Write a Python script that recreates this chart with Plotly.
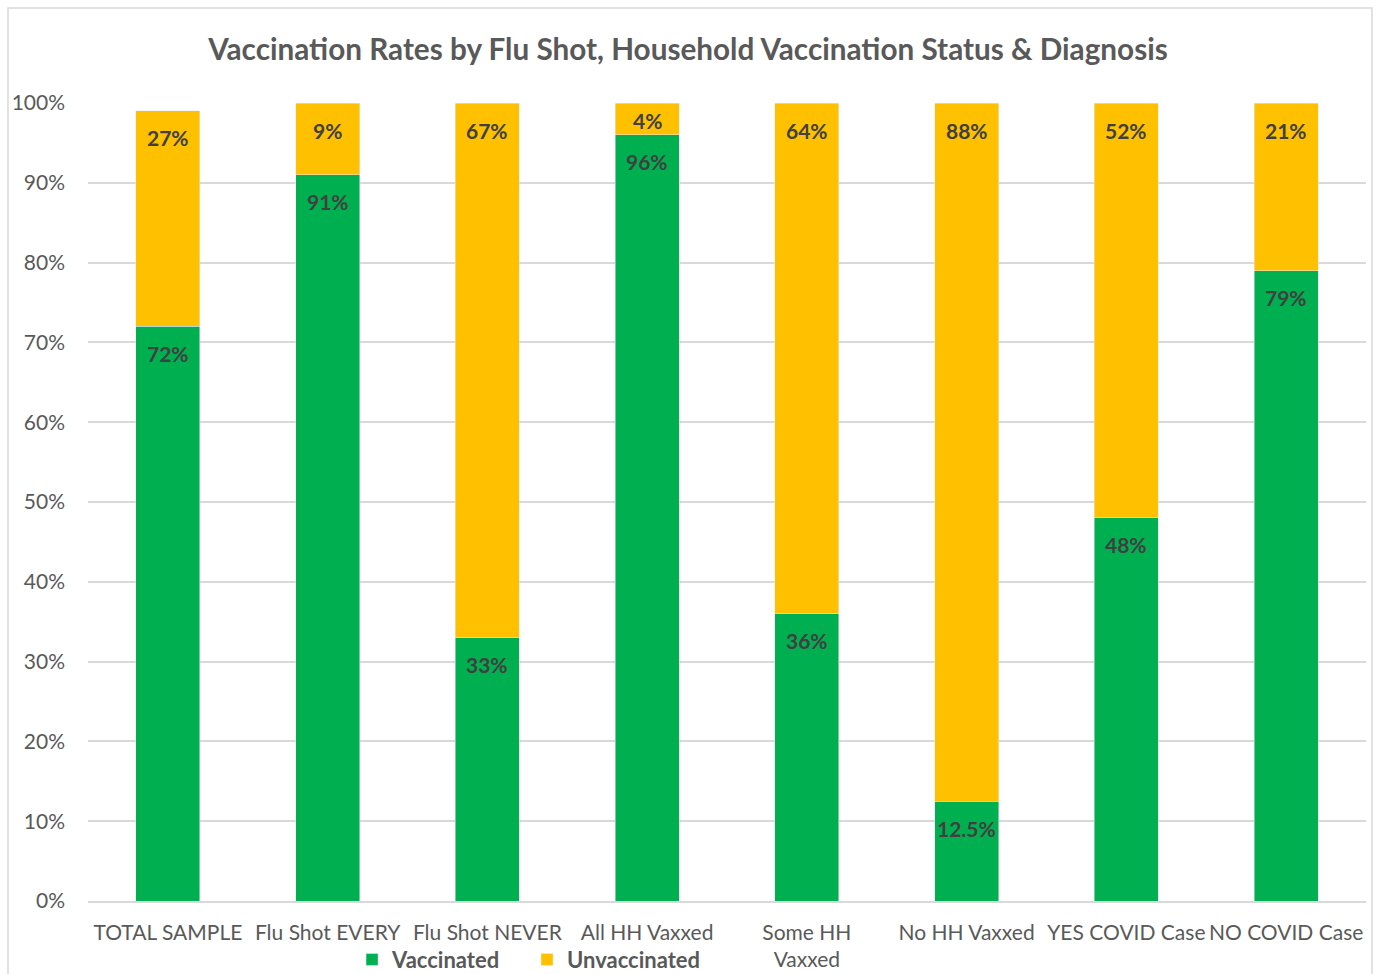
import plotly.graph_objects as go

categories = ["TOTAL SAMPLE", "Flu Shot EVERY", "Flu Shot NEVER", "All HH Vaxxed",
              "Some HH<br>Vaxxed", "No HH Vaxxed", "YES COVID Case", "NO COVID Case"]
vaccinated = [72, 91, 33, 96, 36, 12.5, 48, 79]
unvaccinated = [27, 9, 67, 4, 64, 87.5, 52, 21]
vacc_labels = ["72%", "91%", "33%", "96%", "36%", "12.5%", "48%", "79%"]
unvacc_labels = ["27%", "9%", "67%", "4%", "64%", "88%", "52%", "21%"]

FONT = "Lato, 'Open Sans', sans-serif"
LABEL_FONT = dict(family=FONT, size=21, color="#404040", weight="bold")

PLOT_H = 974 - 103 - 73
PX_PER_UNIT = PLOT_H / 100.0

fig = go.Figure()
fig.add_trace(go.Bar(x=categories, y=vaccinated, name="Vaccinated", marker_color="#00B050"))
fig.add_trace(go.Bar(x=categories, y=unvaccinated, name="Unvaccinated", marker_color="#FFC000"))

annotations = []
for cat, v, u, vl, ul in zip(categories, vaccinated, unvaccinated, vacc_labels, unvacc_labels):
    for top, seg, lab in ((v, v, vl), (v + u, u, ul)):
        off = min(27, seg * PX_PER_UNIT / 2 + 2)
        annotations.append(dict(x=cat, y=top, xref="x", yref="y", text=lab, showarrow=False,
                                yanchor="middle", yshift=-off, font=LABEL_FONT))

fig.update_layout(
    barmode="stack",
    bargap=0.6,
    width=1376, height=974,
    margin=dict(l=88, r=10, t=103, b=73, autoexpand=False),
    paper_bgcolor="white", plot_bgcolor="white",
    font=dict(family=FONT, color="#595959"),
    title=dict(text="<b>Vaccination Rates by Flu Shot, Household Vaccination Status &amp; Diagnosis</b>",
               x=0.5, xanchor="center", y=0.949, yanchor="middle",
               font=dict(size=29.7, color="#595959", family=FONT)),
    annotations=annotations,
    legend=dict(orientation="h", x=0.2066, xanchor="left", y=-0.0735, yanchor="middle",
                font=dict(size=22, color="#595959", family=FONT, weight="bold"),
                itemwidth=30, traceorder="normal", bgcolor="rgba(0,0,0,0)",
                entrywidth=130, entrywidthmode="pixels"),
    shapes=[dict(type="rect", xref="paper", yref="paper", x0=-0.0626, x1=1.0047,
                 y0=-0.2, y1=1.119, line=dict(color="#D9D9D9", width=1.5),
                 fillcolor="rgba(0,0,0,0)", layer="below")],
)
fig.update_xaxes(tickangle=0, tickfont=dict(size=21, color="#595959"), showline=True,
                 linecolor="#D9D9D9", linewidth=1.5, ticks="", ticklabelstandoff=12,
                 automargin=False)
fig.update_yaxes(range=[0, 100], dtick=10, ticksuffix="%", showgrid=True,
                 gridcolor="#D9D9D9", gridwidth=1.5, zeroline=False,
                 tickfont=dict(size=21, color="#595959"), ticklabelstandoff=22,
                 automargin=False)

fig.write_html("out.html", post_script="document.body.style.margin='0';",
               config={"displayModeBar": False})
